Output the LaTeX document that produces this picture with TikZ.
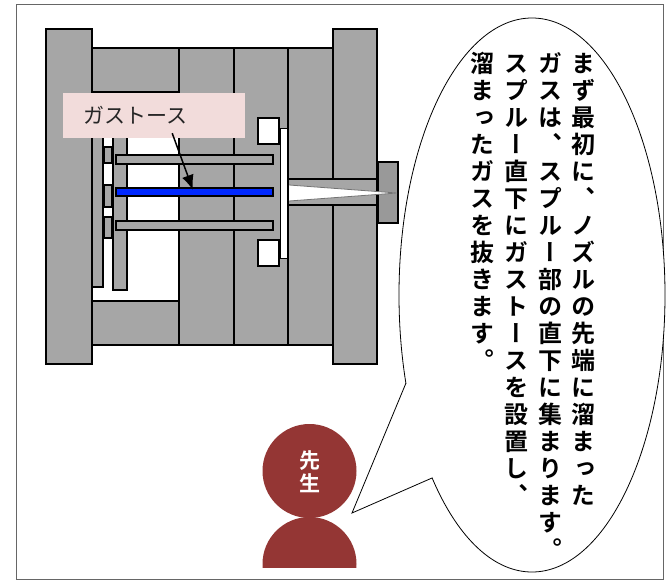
\documentclass[tikz,border=0pt]{standalone}
\usepackage{fontspec}
\usepackage{tikz}
\usetikzlibrary{arrows.meta, shapes.geometric}

\newfontfamily\jpfont{Noto Sans CJK JP}
\newfontfamily\jpvert[RawFeature=+vert]{Noto Sans CJK JP Bold}

\definecolor{moldgray}{RGB}{166,166,166}
\definecolor{nozzlegray}{RGB}{153,153,153}
\definecolor{ventblue}{RGB}{0,40,255}
\definecolor{tagpink}{RGB}{242,220,219}
\definecolor{teacher}{RGB}{148,54,52}

% one column of upright characters, read top to bottom
\newcommand{\vcolumn}[3]{%
    \foreach \ch [count=\k] in {#3}
        \node[vchar] (#1-\k) at (#2, 36.5+27*\k) {\ch};}

\begin{document}
\begin{tikzpicture}[x=1pt, y=-1pt,
    plate/.style={fill=moldgray, draw=black, line width=2pt},
    pin/.style={fill=moldgray, draw=black, line width=1.5pt},
    tag/.style={fill=tagpink, minimum width=182, minimum height=45, inner xsep=20,
        text width=142, align=left, font=\jpfont\fontsize{21}{21}\selectfont, text=black!85},
    vchar/.style={inner sep=0, text width=24, text height=21.1, text depth=2.9, align=center,
        font=\jpvert\fontsize{24}{24}\selectfont},
    ptr/.style={-{Latex[length=15pt, width=12pt]}, line width=1.5pt}]
\useasboundingbox (0,0) rectangle (667,584);
\draw[black!60, line width=1pt] (16,4) rectangle (663,579);

% mould plates
\draw[plate] (46,29) rectangle (92,364);
\draw[plate] (92,48) rectangle (179,92);
\draw[plate] (92,301) rectangle (179,345);
\draw[plate] (179,48) rectangle (234,345);
\draw[plate, line width=2.5pt] (234,48) rectangle (288,345);
\draw[plate] (288,48) rectangle (333,345);
\draw[plate] (333,29) rectangle (377,364);

% ejector plates and pins
\draw[pin] (92,96) rectangle (103,287);
\draw[pin] (113,96) rectangle (127,290);
\foreach \y/\h in {147/16, 185/22, 217/21}
    \draw[pin] (104,\y) rectangle (112,\y+\h);
\foreach \y in {155,221}
    \draw[pin] (116,\y) rectangle (273,\y+9);
\draw[pin, fill=ventblue] (116,188) rectangle (273,196);

% return pin heads and gap
\draw[fill=white, line width=2pt] (258,118) rectangle (279,144);
\draw[fill=white, line width=2pt] (258,240) rectangle (279,266);
\draw[fill=white, line width=1pt] (280,128) rectangle (287,258);

% sprue bush and nozzle
\draw[plate] (288,179) rectangle (377,205);
\draw[plate, fill=nozzlegray] (378,162) rectangle (398,223);
\fill[white] (289,185) -- (397,193) -- (289,201) -- cycle;
\draw[black!55, line width=0.8pt] (289,185) -- (397,193) -- (289,201);

% gas vent label
\node[tag, anchor=west] (gt) at (63,115.5) {ガストース};
\coordinate (vent) at (193,190);
\draw[ptr] ([shift={(18,-5)}]gt.south) -- (vent);

% speech bubble
\node[ellipse, draw, fill=white, line width=0.8pt, inner sep=0,
    minimum width=266, minimum height=554] (bubble) at (532,295) {};
\coordinate (tailA) at (406,383);
\coordinate (tailB) at (432,478);
\coordinate (tip) at (352,513);
\fill[white] (tailA) -- (tip) -- (tailB) -- (450,430) -- cycle;
\draw[line width=0.8pt] (tailA) -- (tip) -- (tailB);

\vcolumn{one}{583}{ま,ず,最,初,に,、,ノ,ズ,ル,の,先,端,に,溜,ま,っ,た}
\vcolumn{two}{550}{ガ,ス,は,、,ス,プ,ル,ー,部,の,直,下,に,集,ま,り,ま,す,。}
\vcolumn{three}{516}{ス,プ,ル,ー,直,下,に,ガ,ス,ト,ー,ス,を,設,置,し,、}
\vcolumn{four}{482}{溜,ま,っ,た,ガ,ス,を,抜,き,ま,す,。}

% teacher
\begin{scope}
    \clip (250,500) rectangle (370,567);
    \fill[teacher] (309.5,564) circle (47);
\end{scope}
\node[circle, fill=teacher, minimum size=94, inner sep=0] (head) at (309.5,471) {};
\node[text=white, align=center, font=\jpvert\fontsize{21}{23}\selectfont] (sensei) at (310,472) {先\\生};
\end{tikzpicture}
\end{document}
